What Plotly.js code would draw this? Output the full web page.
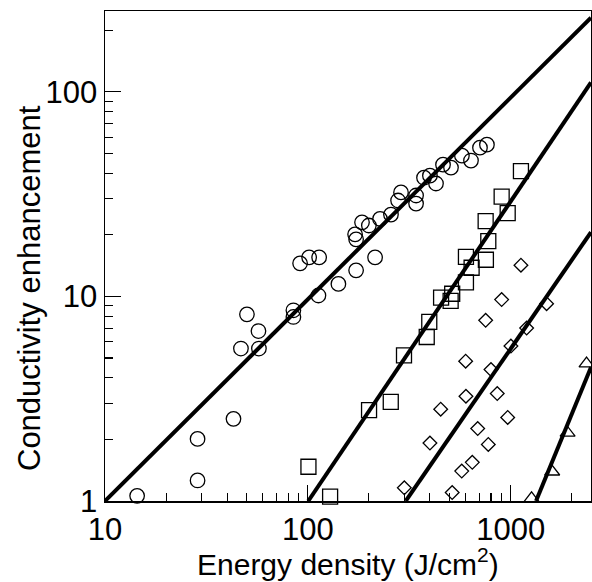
<!DOCTYPE html>
<html>
<head>
<meta charset="utf-8">
<script src="https://cdn.plot.ly/plotly-3.0.1.min.js"></script>
<style>html,body{margin:0;padding:0;background:#fff;}#chart{width:592px;height:582px;}</style>
</head>
<body>
<div id="chart"></div>
<script>
// Circles
const circleX = [14.4, 28.6, 28.6, 43.0, 46.8, 50.1, 57.1, 57.4, 84.9, 84.9, 91.6, 101.5, 113.7, 112.8, 141.5, 173, 214.6, 171, 173, 185, 200, 227, 257, 278.6, 288, 341.7, 341.7, 374, 400, 428.5, 464, 508, 575, 637.5, 706, 764];
const circleY = [1.06, 1.26, 2.01, 2.52, 5.56, 8.17, 6.77, 5.56, 8.55, 7.93, 14.5, 15.5, 15.5, 10.1, 11.5, 13.4, 15.5, 20.1, 19.0, 23.0, 22.2, 23.9, 25.1, 29.4, 32.2, 31.1, 28.4, 38.0, 38.9, 35.6, 44.0, 42.6, 48.7, 46.1, 53.3, 55.1];
// Squares
const squareX = [100.7, 128.8, 200.4, 256.4, 298, 385.7, 397, 454, 506, 515, 602, 602, 642, 755, 776, 753, 967, 903, 1124];
const squareY = [1.47, 1.05, 2.78, 3.05, 5.15, 6.33, 7.51, 9.85, 9.51, 10.3, 11.7, 15.6, 13.8, 15.1, 18.6, 23.3, 25.5, 30.7, 40.9];
// Diamonds
const diamondX = [1124, 903, 1504, 753, 1199, 1003, 600, 800, 602, 859, 452, 967, 688, 400, 776, 647, 574, 299, 515];
const diamondY = [14.2, 9.64, 9.21, 7.64, 7.0, 5.72, 4.82, 4.39, 3.25, 3.35, 2.81, 2.56, 2.26, 1.92, 1.89, 1.545, 1.40, 1.16, 1.10];
// Triangles
const triangleX = [1268, 1603, 1909, 2367];
const triangleY = [1.03, 1.39, 2.15, 4.69];
// Fit lines (end points)
const fit1X = [10, 2490], fit1Y = [1, 230];
const fit2X = [100.5, 2490], fit2Y = [1, 111];
const fit3X = [304, 2490], fit3Y = [1, 20.6];
const fit4X = [1334, 2490], fit4Y = [1, 4.5];
// Ticks
const xTickVals = [10, 100, 1000], xTickText = ['10', '100', '1000'];
const yTickVals = [1, 10, 100], yTickText = ['1', '10', '100'];

const FONT = 'Liberation Sans Narrow, Liberation Sans, Arial, sans-serif';
const mk = (sym, size) => ({symbol: sym, size: size, color: 'rgba(0,0,0,0)', line: {color: '#000', width: 1.3}});
const lineStyle = {color: '#000', width: 4};

const traces = [
  {x: fit1X, y: fit1Y, mode: 'lines', line: lineStyle},
  {x: fit2X, y: fit2Y, mode: 'lines', line: lineStyle},
  {x: fit3X, y: fit3Y, mode: 'lines', line: lineStyle},
  {x: fit4X, y: fit4Y, mode: 'lines', line: lineStyle},
  {x: circleX, y: circleY, mode: 'markers', marker: mk('circle', 14.5), cliponaxis: false},
  {x: squareX, y: squareY, mode: 'markers', marker: mk('square', 15), cliponaxis: false},
  {x: diamondX, y: diamondY, mode: 'markers', marker: mk('diamond', 10.5), cliponaxis: false},
  {x: triangleX, y: triangleY, mode: 'markers', marker: mk('triangle-up', 13), cliponaxis: false}
];

const axisCommon = {
  type: 'log', showgrid: false, zeroline: false,
  showline: true, linecolor: '#000', linewidth: 1.5, mirror: true,
  ticks: 'inside', ticklen: 16, tickwidth: 1.3, tickcolor: '#000',
  tickmode: 'array',
  tickfont: {family: FONT, size: 31, color: '#000'},
  minor: {ticks: 'inside', ticklen: 8, tickwidth: 1.1, tickcolor: '#000', dtick: 'D1', showgrid: false}
};

const layout = {
  width: 592, height: 582,
  margin: {l: 105, r: 1, t: 11, b: 81},
  paper_bgcolor: '#fff', plot_bgcolor: '#fff',
  showlegend: false,
  xaxis: Object.assign({}, axisCommon, {range: [1, Math.log10(2490)], tickvals: xTickVals, ticktext: xTickText}),
  yaxis: Object.assign({}, axisCommon, {range: [0, Math.log10(248)], tickvals: yTickVals, ticktext: yTickText}),
  annotations: [
    {text: 'Energy density (J/cm<sup>2</sup>)', xref: 'paper', yref: 'paper', x: 0.5, y: -0.124,
     xanchor: 'center', yanchor: 'middle', showarrow: false, font: {family: FONT, size: 30, color: '#000'}},
    {text: 'Conductivity enhancement', xref: 'paper', yref: 'paper', x: -0.154, y: 0.435, textangle: -90,
     xanchor: 'center', yanchor: 'middle', showarrow: false, font: {family: FONT, size: 31, color: '#000'}}
  ]
};

Plotly.newPlot('chart', traces, layout, {staticPlot: true});
</script>
</body>
</html>
